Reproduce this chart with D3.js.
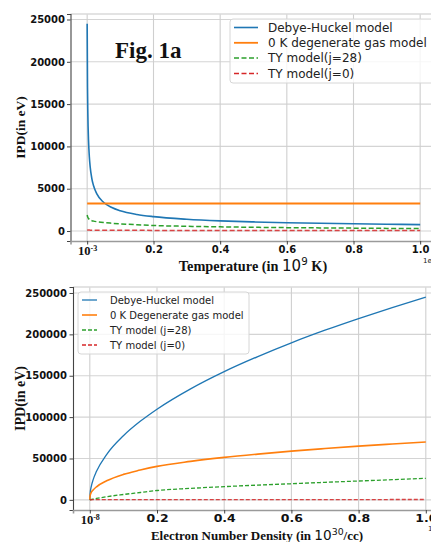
<!DOCTYPE html>
<html><head><meta charset="utf-8">
<script src="https://cdn.jsdelivr.net/npm/d3@7"></script>
<style>body{margin:0;background:#fff}svg{display:block}</style>
</head><body><svg id="c" width="431" height="542"></svg>
<script>
// ---- Fig 1a: IPD vs temperature (10^9 K) ----
const tempT = [0.001, 0.002, 0.003, 0.005, 0.0075, 0.01, 0.015, 0.02, 0.03, 0.05, 0.075, 0.1, 0.15, 0.2, 0.3, 0.4, 0.5, 0.6, 0.7, 0.8, 0.9, 1.0];
const dhT   = [24500, 17000, 13900, 10750, 8780, 7600, 6200, 5370, 4390, 3400, 2775, 2400, 1960, 1700, 1390, 1200, 1075, 980, 910, 850, 800, 760];
const degT  = [3250, 3250, 3250, 3250, 3250, 3250, 3250, 3250, 3250, 3250, 3250, 3250, 3250, 3250, 3250, 3250, 3250, 3250, 3250, 3250, 3250, 3250];
const ty28T = [1900, 1750, 1620, 1480, 1380, 1300, 1220, 1170, 1100, 1000, 920, 850, 740, 650, 560, 490, 440, 400, 370, 340, 310, 290];
const ty0T  = [130, 125, 120, 115, 110, 105, 100, 98, 95, 90, 86, 83, 78, 75, 70, 66, 62, 59, 56, 53, 50, 48];
const xTicks1 = [0.001, 0.2, 0.4, 0.6, 0.8, 1.0];
const yTicks1 = [0, 5000, 10000, 15000, 20000, 25000];
const legend1 = ["Debye-Huckel model", "0 K degenerate gas model", "TY model(j=28)", "TY model(j=0)"];

// ---- Fig 1b: IPD vs electron number density (10^30 /cc) ----
const densN = [1e-8, 0.001, 0.005, 0.01, 0.02, 0.05, 0.1, 0.15, 0.2, 0.3, 0.4, 0.5, 0.6, 0.7, 0.8, 0.9, 1.0];
const dhN   = [25, 7750, 17300, 24500, 34600, 54800, 77500, 94900, 109600, 134200, 155000, 173200, 189800, 205000, 219100, 232400, 245000];
const degN  = [150, 5000, 9500, 12000, 15800, 23000, 30800, 36000, 40500, 46500, 51300, 55300, 58900, 62000, 64900, 67500, 70000];
const ty28N = [0, 100, 500, 900, 1700, 3800, 6500, 8900, 11300, 13900, 16000, 17800, 19500, 21200, 22800, 24400, 26000];
const ty0N  = [0, 100, 150, 180, 210, 250, 280, 300, 320, 340, 360, 370, 380, 390, 400, 410, 420];
const xTicks2 = [1e-8, 0.2, 0.4, 0.6, 0.8, 1.0];
const yTicks2 = [0, 50000, 100000, 150000, 200000, 250000];
const legend2 = ["Debye-Huckel model", "0 K Degenerate gas model", "TY model (j=28)", "TY model (j=0)"];

const COLORS = ["#1f77b4", "#ff7f0e", "#2ca02c", "#d62728"];
const SERIF = "'Liberation Serif','Times New Roman',serif";
const SANS = "'DejaVu Sans',sans-serif";

const svg = d3.select("#c");
svg.append("rect").attr("width", 431).attr("height", 542).attr("fill", "#fff");

function panel(o) {
  const g = svg.append("g");
  const x = d3.scaleLinear(o.xDom, o.xRange);
  const y = d3.scaleLinear(o.yDom, o.yRange);
  const [L, R] = o.xRange, [B, T] = o.yRange;
  // grid
  g.append("g").selectAll("line").data(o.yTicks).join("line")
    .attr("x1", L).attr("x2", R).attr("y1", d => y(d)).attr("y2", d => y(d))
    .attr("stroke", "#d4d4d4").attr("stroke-width", 1.1);
  g.append("g").selectAll("line").data(o.xTicks).join("line")
    .attr("y1", B).attr("y2", T).attr("x1", d => x(d)).attr("x2", d => x(d))
    .attr("stroke", "#cfcfcf").attr("stroke-width", 1.1);
  // top border
  g.append("line").attr("x1", L).attr("x2", R).attr("y1", T).attr("y2", T)
    .attr("stroke", "#dadada").attr("stroke-width", 1.6);

  // lines
  const line = d3.line().x((d, i) => x(o.xs[i])).y(d => y(d)).curve(d3.curveMonotoneX);
  o.series.forEach((s, k) => {
    g.append("path").attr("d", line(s)).attr("fill", "none")
      .attr("stroke", COLORS[k]).attr("stroke-width", o.lw[k])
      .attr("stroke-dasharray", k >= 2 ? o.dash : null)
      .attr("opacity", k === 3 ? 0.85 : 1);
  });

  // axes
  const ax = g.append("g").attr("transform", `translate(${L},0)`)
    .call(d3.axisLeft(y).tickValues(o.yTicks).tickSize(3.5).tickPadding(o.yPad).tickFormat(d3.format("d")));
  ax.select(".domain").attr("stroke", "#444").attr("stroke-width", 1.1);
  ax.selectAll(".tick line").attr("stroke", "#444");
  ax.selectAll("text").attr("font-family", SANS).attr("font-weight", "bold")
    .attr("font-size", o.yFs).attr("fill", "#111");

  const bx = g.append("g").attr("transform", `translate(0,${B})`)
    .call(d3.axisBottom(x).tickValues(o.xTicks).tickSize(3.5).tickPadding(1.5)
      .tickFormat((d, i) => i === 0 ? "" : d3.format(".1f")(d)));
  bx.select(".domain").attr("stroke", "#9a9a9a").attr("stroke-width", 1.6);
  bx.selectAll(".tick line").attr("stroke", "#444");
  bx.selectAll("text").attr("font-family", SANS).attr("font-weight", "bold")
    .attr("font-size", o.xFs).attr("fill", "#111");
  bx.selectAll(".tick").each(function (d, i) {
    const t = d3.select(this).select("text");
    if (i === 0) {
      t.attr("font-family", SERIF).attr("font-weight", "bold").attr("font-size", 12.5);
      t.append("tspan").text("10");
      t.append("tspan").text(o.firstExp).attr("font-size", 8).attr("dy", "-0.5em");
    } else {
      t.attr("transform", `scale(${o.xScaleX},1)`);
    }
  });
  // offset text (clipped by the picture edge, as in the reference)
  g.append("text").attr("x", o.offX).attr("y", o.offY).attr("font-family", SANS)
    .attr("font-size", 7).attr("fill", "#222").text("1e9");

  // y label
  g.append("text").attr("transform", `translate(${o.ylX},${(B + T) / 2}) rotate(-90)`)
    .attr("text-anchor", "middle").attr("font-family", SERIF).attr("font-weight", "bold")
    .attr("font-size", o.ylFs).attr("fill", "#111").text("IPD(in eV)");
  // x label
  const xl = g.append("text").attr("x", o.xlX).attr("y", o.xlY).attr("text-anchor", "middle")
    .attr("font-family", SERIF).attr("font-weight", "bold").attr("font-size", o.xlFs).attr("fill", "#111");
  xl.append("tspan").text(o.xlPre);
  xl.append("tspan").text("10").attr("font-family", SANS).attr("font-weight", "normal").attr("font-size", o.xlFs * 1.05);
  xl.append("tspan").text(o.xlExp).attr("font-family", SANS).attr("font-weight", "normal")
    .attr("font-size", o.xlFs * 0.72).attr("dy", "-0.55em");
  xl.append("tspan").text(o.xlPost).attr("dy", "0.4em");

  // legend
  const lg = g.append("g");
  lg.append("rect").attr("x", o.lgX).attr("y", o.lgY).attr("width", o.lgW).attr("height", o.lgH)
    .attr("rx", 3).attr("fill", "#fff").attr("fill-opacity", 0.8).attr("stroke", "#d6d6d6");
  o.legend.forEach((name, k) => {
    const yy = o.lgRow0 + k * o.lgStep;
    lg.append("line").attr("x1", o.lgX + 4).attr("x2", o.lgX + 4 + o.lgHandle).attr("y1", yy).attr("y2", yy)
      .attr("stroke", COLORS[k]).attr("stroke-width", o.lw[k]).attr("stroke-dasharray", k >= 2 ? o.dash : null);
    lg.append("text").attr("x", o.lgX + 4 + o.lgHandle + o.lgGap).attr("y", yy).attr("dy", "0.35em")
      .attr("font-family", SANS).attr("font-size", o.lgFs).attr("fill", "#222").text(name);
  });
  return g;
}

panel({
  xs: tempT, series: [dhT, degT, ty28T, ty0T],
  xDom: [-0.049, 1.049], xRange: [70.5, 436.5],
  yDom: [-1180, 25650], yRange: [241, 14],
  xTicks: xTicks1, yTicks: yTicks1, firstExp: "-3",
  lw: [1.6, 1.8, 1.5, 1.5], dash: "5,2.5",
  yPad: 2, yFs: 10, xFs: 10, xScaleX: 1,
  offX: 423, offY: 263,
  ylX: 25, ylFs: 13.5,
  xlX: 253, xlY: 271, xlFs: 14.3, xlPre: "Temperature (in ", xlExp: "9", xlPost: " K)",
  legend: legend1, lgX: 230, lgY: 19, lgW: 206, lgH: 64, lgRow0: 27.5, lgStep: 15.3, lgHandle: 24, lgGap: 10, lgFs: 12
});
svg.append("text").attr("x", 115).attr("y", 58).attr("font-family", SERIF).attr("font-weight", "bold")
  .attr("font-size", 23).attr("fill", "#111").text("Fig. 1a");

panel({
  xs: densN, series: [dhN, degN, ty28N, ty0N],
  xDom: [-0.05, 1.05], xRange: [73, 442.6],
  yDom: [-12250, 257250], yRange: [510, 287],
  xTicks: xTicks2, yTicks: yTicks2, firstExp: "-8",
  lw: [1.3, 1.6, 1.3, 1.3], dash: "4,2",
  yPad: 2.5, yFs: 10, xFs: 10, xScaleX: 1.25,
  offX: 428, offY: 531,
  ylX: 25, ylFs: 14,
  xlX: 257, xlY: 540, xlFs: 13, xlPre: "Electron Number Density (in ", xlExp: "30", xlPost: "/cc)",
  legend: legend2, lgX: 78, lgY: 292, lgW: 171, lgH: 62, lgRow0: 300, lgStep: 15, lgHandle: 15, lgGap: 13, lgFs: 10
});
</script></body></html>
